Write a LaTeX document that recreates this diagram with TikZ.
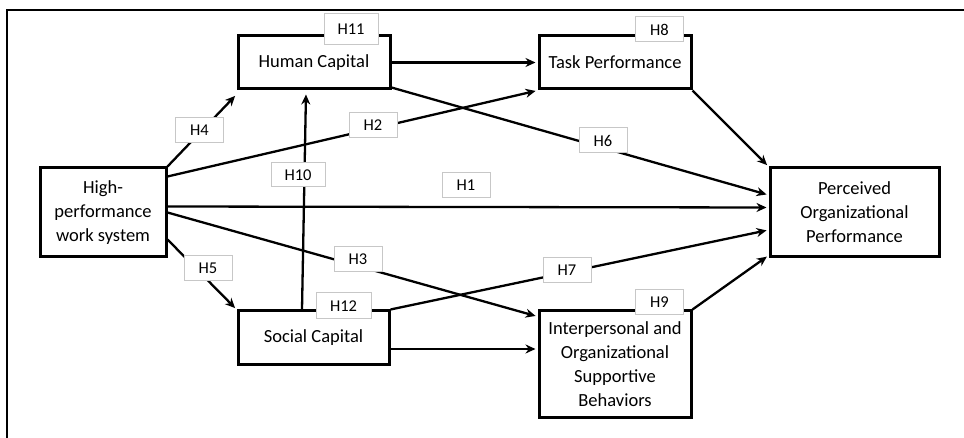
\documentclass[tikz,border=0pt]{standalone}
\usepackage{fontspec}
\setmainfont{Carlito}
\usetikzlibrary{arrows.meta,positioning}
\tikzset{
  >={Stealth[length=10pt,width=9pt]},
  varbox/.style={draw, line width=3pt, align=center, inner sep=0pt,
                 font=\fontsize{18.5}{24}\selectfont},
  hyp/.style={draw=black!22, line width=1pt, fill=white, inner sep=0pt,
              minimum width=48pt, minimum height=25pt,
              font=\fontsize{16.5}{18}\selectfont},
  arr/.style={->, line width=2.3pt, shorten >=2pt},
}

\begin{document}
\begin{tikzpicture}[x=1pt, y=-1pt]
      \useasboundingbox (0,0) rectangle (964,438);
      % outer frame
      \draw[line width=2.6pt] (7,438) -- (7,10) -- (964,10);
      % variables
      \node[varbox, minimum width=126pt, minimum height=89pt] (hpws) at (103,212.5)
        {High-\\performance\\work system};
      \node[varbox, minimum width=152pt, minimum height=53pt] (hc) at (314,62.5) {Human Capital};
      \node[varbox, minimum width=152pt, minimum height=53pt] (tp) at (615,62.5) {Task Performance};
      \node[varbox, minimum width=151pt, minimum height=53pt] (sc) at (313.5,337.5) {Social Capital};
      \node[varbox, minimum width=152pt, minimum height=106pt] (iosb) at (615,364)
        {Interpersonal and\\Organizational\\Supportive\\Behaviors};
      \node[varbox, minimum width=169pt, minimum height=89pt] (pop) at (854.5,212.5)
        {Perceived\\Organizational\\Performance};
      % paths
      \draw[arr] (hpws.north east) -- ([yshift=-4pt]hc.south west);
      \draw[arr] ([yshift=-10pt]hpws.north east) -- (tp.south west);
      \draw[arr] ([yshift=6pt]hpws.east) -- ([yshift=5pt]pop.west);
      \draw[arr] (hpws.east) -- ([yshift=-7pt]iosb.north west);
      \draw[arr] ([yshift=19pt]hpws.south east) -- (sc.north west);
      \draw[arr] (hc.east) -- (tp.west);
      \draw[arr] ([yshift=3pt]hc.south east) -- ([yshift=17.5pt]pop.west);
      \draw[arr] (tp.south east) -- (pop.north west);
      \draw[arr] ([xshift=-11.5pt]sc.north) -- ([xshift=-8pt, yshift=-2pt]hc.south);
      \draw[arr] (sc.north east) -- ([yshift=-17.5pt]pop.west);
      \draw[arr] ([yshift=-11.5pt]sc.east) -- ([yshift=15pt]iosb.west);
      \draw[arr] (iosb.north east) -- ([yshift=3pt]pop.south west);
      % hypothesis labels
      \node[hyp] (h1) at (466,185.5) {H1};
      \node[hyp] (h2) at (373,125) {H2};
      \node[hyp] (h3) at (358,259.5) {H3};
      \node[hyp] (h4) at (199.5,130.5) {H4};
      \node[hyp] (h5) at (208,268.5) {H5};
      \node[hyp] (h6) at (603,140.5) {H6};
      \node[hyp] (h7) at (567,270.5) {H7};
      \node[hyp] (h8) at (659.5,29.5) {H8};
      \node[hyp] (h9) at (659.5,302.5) {H9};
      \node[hyp, minimum width=54pt, minimum height=24pt] (h10) at (298,175) {H10};
      \node[hyp, minimum width=54pt, minimum height=31pt] (h11) at (351,29.5) {H11};
      \node[hyp, minimum width=55pt, minimum height=26pt] (h12) at (343.5,306) {H12};
\end{tikzpicture}
\end{document}
